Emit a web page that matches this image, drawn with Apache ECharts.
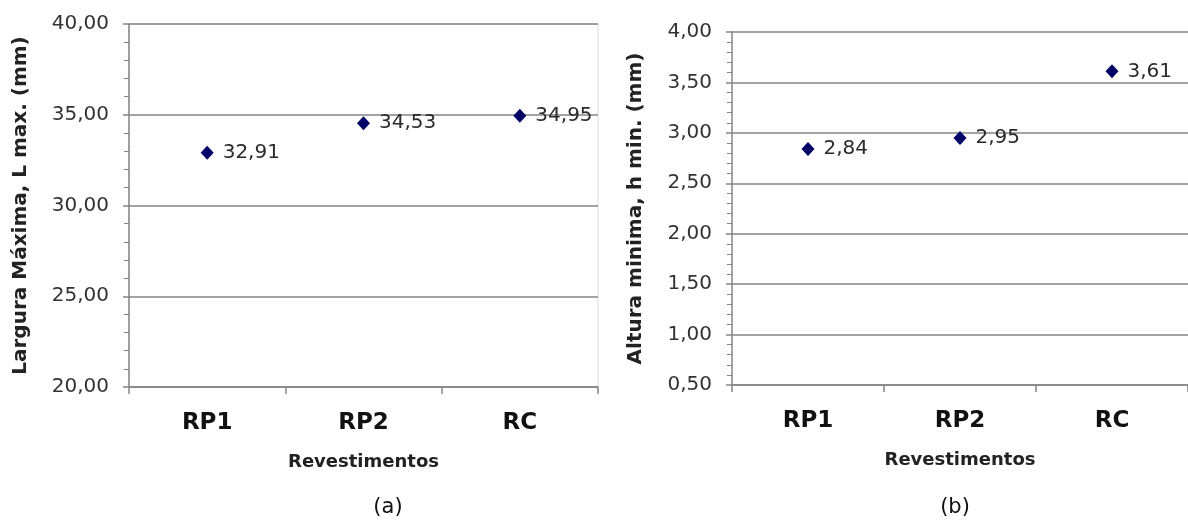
<!DOCTYPE html>
<html>
<head>
<meta charset="utf-8">
<script src="https://cdn.jsdelivr.net/npm/echarts@6/dist/echarts.min.js"></script>
<style>
  html, body { margin: 0; padding: 0; background: #ffffff; }
  #chart { width: 1188px; height: 520px; }
</style>
</head>
<body>
<div id="chart"></div>
<script>
// Coating types on the horizontal axis of both panels
const categories = ['RP1', 'RP2', 'RC'];
// (a) maximum width, mm
const larguraMaxima = [32.91, 34.53, 34.95];
// (b) minimum height, mm
const alturaMinima = [2.84, 2.95, 3.61];

const xTitle = 'Revestimentos';
const yTitleA = 'Largura Máxima, L max. (mm)';
const yTitleB = 'Altura minima, h min. (mm)';
const panelA = '(a)';
const panelB = '(b)';

const FONT = '"DejaVu Sans", sans-serif';
const GRID_COLOR = '#858585';
const MARK_COLOR = '#000066';

const comma2 = v => Number(v).toFixed(2).replace('.', ',');

function xAxisFor(gridIndex) {
  return {
    type: 'category',
    gridIndex: gridIndex,
    data: categories,
    boundaryGap: true,
    name: xTitle,
    nameLocation: 'middle',
    nameGap: 66,
    nameTextStyle: { fontFamily: FONT, fontWeight: 'bold', fontSize: 18, color: '#222' },
    axisLine: { show: true, lineStyle: { color: GRID_COLOR, width: 1.5 } },
    axisTick: { show: true, alignWithLabel: false, length: 7, lineStyle: { color: GRID_COLOR, width: 1.5 } },
    axisLabel: { margin: 25, fontFamily: FONT, fontWeight: 'bold', fontSize: 23, color: '#111' },
    splitLine: { show: false }
  };
}

function yAxisFor(gridIndex, min, max, interval, name, nameGap) {
  return {
    type: 'value',
    gridIndex: gridIndex,
    min: min,
    max: max,
    interval: interval,
    name: name,
    nameLocation: 'middle',
    nameRotate: 90,
    nameGap: nameGap,
    nameTextStyle: { fontFamily: FONT, fontWeight: 'bold', fontSize: 20, color: '#222' },
    axisLine: { show: true, lineStyle: { color: GRID_COLOR, width: 1.5 } },
    axisTick: { show: true, length: 6, lineStyle: { color: GRID_COLOR, width: 1.5 } },
    minorTick: { show: true, splitNumber: 5, length: 5, lineStyle: { color: GRID_COLOR, width: 1 } },
    axisLabel: { margin: 20, fontFamily: FONT, fontSize: 20, color: '#333', formatter: comma2 },
    splitLine: { show: true, lineStyle: { color: GRID_COLOR, width: 1.5 } }
  };
}

function scatterFor(index, values) {
  return {
    type: 'scatter',
    xAxisIndex: index,
    yAxisIndex: index,
    data: values,
    symbol: 'diamond',
    symbolSize: [13, 14],
    itemStyle: { color: MARK_COLOR, opacity: 1 },
    label: {
      show: true,
      position: 'right',
      distance: 9,
      fontFamily: FONT,
      fontSize: 20,
      color: '#2a2a2a',
      formatter: p => comma2(p.value)
    },
    emphasis: { disabled: true }
  };
}

const chart = echarts.init(document.getElementById('chart'), null, { renderer: 'canvas' });
chart.setOption({
  backgroundColor: '#ffffff',
  animation: false,
  title: [
    { text: panelA, left: 383, top: 492, textAlign: 'center',
      textStyle: { fontFamily: FONT, fontWeight: 'normal', fontSize: 21, color: '#111' } },
    { text: panelB, left: 950, top: 492, textAlign: 'center',
      textStyle: { fontFamily: FONT, fontWeight: 'normal', fontSize: 21, color: '#111' } }
  ],
  grid: [
    { left: 129, top: 24, width: 469, height: 363, show: true, borderColor: '#dcdcdc', borderWidth: 1, backgroundColor: 'transparent' },
    { left: 732, top: 32, width: 474, height: 353 }
  ],
  xAxis: [xAxisFor(0), xAxisFor(1)],
  yAxis: [
    yAxisFor(0, 20, 40, 5, yTitleA, 98),
    yAxisFor(1, 0.5, 4.0, 0.5, yTitleB, 86)
  ],
  series: [scatterFor(0, larguraMaxima), scatterFor(1, alturaMinima)]
});
</script>
</body>
</html>
